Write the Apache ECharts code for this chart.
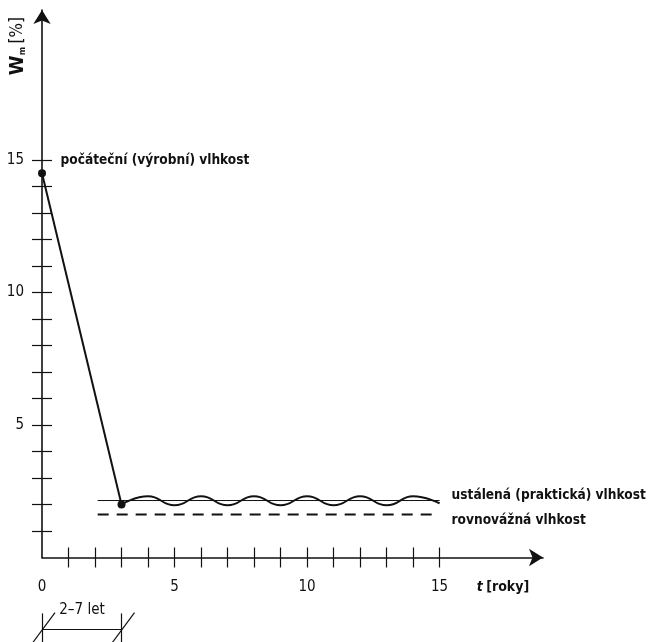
<!DOCTYPE html>
<html>
<head>
<meta charset="utf-8">
<script src="https://cdn.jsdelivr.net/npm/echarts@6/dist/echarts.min.js"></script>
<style>
html,body{margin:0;padding:0;background:#fff;}
#chart{width:649px;height:642px;}
</style>
</head>
<body>
<div id="chart"></div>
<script>
// ---- data ----
const xTickValues = [1,2,3,4,5,6,7,8,9,10,11,12,13,14,15];
const xLabelValues = [0,5,10,15];
const yTickValues = [1,2,3,4,5,6,7,8,9,10,11,12,13,14,15];
const yLabelValues = [5,10,15];
const dropLine = [[0,14.5],[3,2.0]];
const practicalWave = [[3,2.0],[4,2.31],[5,1.97],[6,2.31],[7,1.97],[8,2.31],[9,1.97],[10,2.31],[11,1.97],[12,2.31],[13,1.97],[14,2.31],[15,2.04]];
const practicalLevel = [[2.1,2.15],[15,2.15]];
const equilibriumLevel = [[2.1,1.62],[15,1.62]];
const spanStart = 0, spanEnd = 3;
const spanText = '2–7 let';
const labelInitial = 'počáteční (výrobní) vlhkost';
const labelPractical = 'ustálená (praktická) vlhkost';
const labelEquilibrium = 'rovnovážná vlhkost';

// ---- styling ----
const INK = '#111';
const FONT = "'Liberation Sans Narrow','DejaVu Sans Condensed',sans-serif";
const XMAX = 18.9, YMAX = 20.66;

const chart = echarts.init(document.getElementById('chart'), null, {renderer:'canvas'});

function baseX(inside, main){
  return {
    type:'value', min:0, max:XMAX, position:'bottom', gridIndex:0,
    axisLine:{show:main, onZero:false, symbol:['none','arrow'], symbolSize:[13,14],
      lineStyle:{color:INK, width:1.6}},
    axisTick:{show:true, inside:inside, length:10, customValues:xTickValues,
      lineStyle:{color:INK, width:1.2}},
    axisLabel:{show:main, customValues:xLabelValues, margin:22, fontSize:15,
      fontFamily:FONT, color:INK},
    splitLine:{show:false}
  };
}
function baseY(inside, main){
  return {
    type:'value', min:0, max:YMAX, position:'left', gridIndex:0,
    axisLine:{show:main, onZero:false, symbol:['none','arrow'], symbolSize:[13,14],
      lineStyle:{color:INK, width:1.6}},
    axisTick:{show:true, inside:inside, length:10, customValues:yTickValues,
      lineStyle:{color:INK, width:1.2}},
    axisLabel:{show:main, customValues:yLabelValues, margin:18, fontSize:15,
      fontFamily:FONT, color:INK},
    splitLine:{show:false}
  };
}

const textSeries = (pts) => ({
  type:'scatter', xAxisIndex:0, yAxisIndex:0, symbolSize:0, silent:true, clip:false,
  itemStyle:{opacity:1, color:INK},
  data: pts.map(p => ({value:[p.x,p.y], label:Object.assign({show:true, color:INK, fontFamily:FONT, opacity:1}, p.label)})),
  z:10
});

const option = {
  animation:false,
  grid:{left:42, right:106, top:10, bottom:84.5, containLabel:false},
  xAxis:[baseX(false,true), baseX(true,false)],
  yAxis:[baseY(false,true), baseY(true,false)],
  series:[
    {type:'line', data:dropLine, symbol:'circle', symbolSize:8, showSymbol:true,
      itemStyle:{color:INK}, lineStyle:{color:INK, width:2}, z:5},
    {type:'line', data:practicalWave, smooth:0.5, symbol:'none',
      lineStyle:{color:INK, width:2}},
    {type:'line', data:practicalLevel, symbol:'none', lineStyle:{color:INK, width:1}},
    {type:'line', data:equilibriumLevel, symbol:'none', lineStyle:{color:INK, width:2, type:[11,8]}},
    {type:'lines', coordinateSystem:'cartesian2d', clip:false, silent:true,
      lineStyle:{color:INK, width:1.2, opacity:1},
      data:[
        {coords:[[spanStart,-2.11],[spanStart,-3.4]]},
        {coords:[[spanEnd,-2.11],[spanEnd,-3.4]]},
        {coords:[[spanStart,-2.72],[spanEnd,-2.72]]},
        {coords:[[spanStart-0.34,-3.2],[spanStart+0.49,-2.08]]},
        {coords:[[spanEnd-0.34,-3.2],[spanEnd+0.49,-2.08]]}
      ]},
    textSeries([
      {x:0.7, y:15.0, label:{position:'right', distance:0, formatter:labelInitial, fontWeight:'bold', fontSize:13.6}},
      {x:15.45, y:2.33, label:{position:'right', distance:0, formatter:labelPractical, fontWeight:'bold', fontSize:13.6}},
      {x:15.45, y:1.4, label:{position:'right', distance:0, formatter:labelEquilibrium, fontWeight:'bold', fontSize:13.6}},
      {x:16.4, y:-1.13, label:{position:'right', distance:0, formatter:'{i|t} {b|[roky]}',
        rich:{i:{fontStyle:'italic', fontWeight:'bold', fontSize:14, fontFamily:FONT, color:INK},
              b:{fontWeight:'bold', fontSize:14, fontFamily:FONT, color:INK}}}},
      {x:1.51, y:-2.0, label:{position:'inside', formatter:spanText, fontSize:15}},
      {x:-0.92, y:19.3, label:{position:'inside', rotate:90, formatter:'{w|W}{m|m} {r|[%]}',
        rich:{w:{fontWeight:'bold', fontSize:20, fontFamily:FONT, color:INK, verticalAlign:'middle'},
              m:{fontWeight:'bold', fontSize:9, fontFamily:FONT, color:INK, verticalAlign:'bottom', padding:[8,0,0,0]},
              r:{fontSize:17, fontFamily:FONT, color:INK, verticalAlign:'middle'}}}}
    ])
  ]
};
chart.setOption(option);
</script>
</body>
</html>
